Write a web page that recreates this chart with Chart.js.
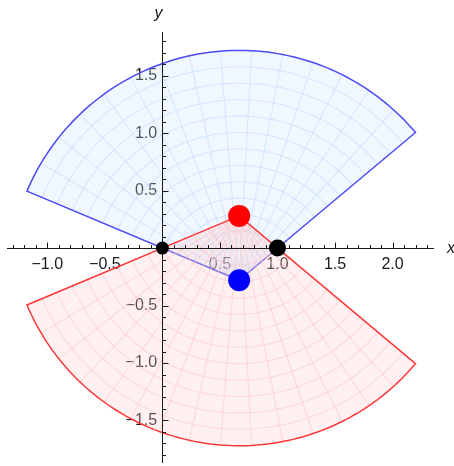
<!DOCTYPE html>
<html>
<head>
<meta charset="utf-8">
<script src="https://cdn.jsdelivr.net/npm/chart.js@4.4.1/dist/chart.umd.min.js"></script>
<style>
  html, body { margin: 0; padding: 0; background: #fff; }
</style>
</head>
<body>
<canvas id="chart" width="454" height="466"></canvas>
<script>
/* ================================
   DATA
================================ */
// two sectors: apex, radius, opening angles in degrees (blue, red)
const sectorCenterX = [0.667, 0.667];
const sectorCenterY = [-0.28, 0.28];
const sectorRadius = [2.0, 2.0];
const sectorStart = [40.0, -157.2];
const sectorEnd = [157.2, -40.0];
const meshRings = [14, 14];
const meshSpokes = [15, 15];

// the four dots
const dotX = [0.667, 0.667, 0, 1];
const dotY = [0.28, -0.28, 0, 0];

// axes
const xTicks = [-1.0, -0.5, 0.5, 1.0, 1.5, 2.0];
const yTicks = [-1.5, -1.0, -0.5, 0.5, 1.0, 1.5];
const xRange = [-1.35, 2.36];
const yRange = [-1.87, 1.88];

/* ================================
   STYLES
================================ */
const sectorLine = ["rgb(75,75,245)", "rgb(255,55,55)"];
const sectorFill = ["rgba(205,228,255,0.28)", "rgba(255,205,205,0.28)"];
const sectorMesh = ["rgba(190,218,255,0.5)", "rgba(255,195,195,0.5)"];
const dotColor = ["#ff0000", "#0000ff", "#000000", "#000000"];
const dotSize = [11, 11, 6.5, 8.5];
const labelFont = { family: "'Liberation Sans', Arial, sans-serif", size: 16 };

function polar(i, r, deg) {
    const a = deg * Math.PI / 180;
    return { x: sectorCenterX[i] + r * Math.cos(a), y: sectorCenterY[i] + r * Math.sin(a) };
}

function arc(i, r) {
    const pts = [];
    const n = 90;
    for (let k = 0; k <= n; k++) {
        pts.push(polar(i, r, sectorStart[i] + (sectorEnd[i] - sectorStart[i]) * k / n));
    }
    return pts;
}

function outline(i) {
    const c = { x: sectorCenterX[i], y: sectorCenterY[i] };
    return [c].concat(arc(i, sectorRadius[i]), [c]);
}

function lineSet(data, color, width, extra) {
    return Object.assign({
        data: data,
        showLine: true,
        borderColor: color,
        borderWidth: width,
        pointRadius: 0,
        pointHoverRadius: 0,
        tension: 0,
        fill: false
    }, extra || {});
}

/* ================================
   BUILD DATASETS (in drawing order)
================================ */
const sets = [];
for (let i = 0; i < sectorCenterX.length; i++) {
    // fill
    sets.push(lineSet(outline(i), "rgba(0,0,0,0)", 0, { fill: "shape", backgroundColor: sectorFill[i] }));
    // rings
    for (let k = 1; k < meshRings[i]; k++) {
        sets.push(lineSet(arc(i, sectorRadius[i] * k / meshRings[i]), sectorMesh[i], 1.2));
    }
    // spokes
    for (let j = 1; j < meshSpokes[i]; j++) {
        const deg = sectorStart[i] + (sectorEnd[i] - sectorStart[i]) * j / meshSpokes[i];
        sets.push(lineSet([polar(i, 0, deg), polar(i, sectorRadius[i], deg)], sectorMesh[i], 1.2));
    }
    // border
    sets.push(lineSet(outline(i), sectorLine[i], 1.5));
}
sets.push({
    isDots: true,
    data: dotX.map((x, k) => ({ x: x, y: dotY[k] })),
    showLine: false,
    pointRadius: dotSize,
    pointHoverRadius: dotSize,
    pointBackgroundColor: dotColor,
    pointBorderWidth: 0
});
sets.forEach((s, k) => { s.order = sets.length - k; });

/* ================================
   AXES THROUGH THE ORIGIN
================================ */
const axesPlugin = {
    id: "originAxes",
    beforeDatasetDraw(chart, args) {
        if (!chart.data.datasets[args.index].isDots) return;
        const ctx = chart.ctx;
        const xs = chart.scales.x, ys = chart.scales.y;
        const ox = Math.round(xs.getPixelForValue(0)) + 0.5;
        const oy = Math.round(ys.getPixelForValue(0)) + 0.5;

        ctx.save();
        ctx.strokeStyle = "#1a1a1a";
        ctx.lineWidth = 1;
        ctx.beginPath();
        ctx.moveTo(xs.left, oy); ctx.lineTo(xs.right, oy);
        ctx.moveTo(ox, ys.top); ctx.lineTo(ox, ys.bottom);

        // tick marks every 0.1, longer every 0.5
        for (let t = Math.ceil(xRange[0] * 10); t <= Math.floor(xRange[1] * 10); t++) {
            if (t === 0) continue;
            const px = Math.round(xs.getPixelForValue(t / 10)) + 0.5;
            const len = t % 5 === 0 ? 6 : 3.5;
            ctx.moveTo(px, oy); ctx.lineTo(px, oy - len);
        }
        for (let t = Math.ceil(yRange[0] * 10); t <= Math.floor(yRange[1] * 10); t++) {
            if (t === 0) continue;
            const py = Math.round(ys.getPixelForValue(t / 10)) + 0.5;
            const len = t % 5 === 0 ? 6 : 3.5;
            ctx.moveTo(ox, py); ctx.lineTo(ox + len, py);
        }
        ctx.stroke();

        // axis names
        ctx.fillStyle = "#1a1a1a";
        ctx.font = "italic 16px 'Liberation Sans', Arial, sans-serif";
        ctx.textAlign = "center";
        ctx.textBaseline = "middle";
        ctx.fillText("x", xs.right + 17, oy);
        ctx.fillText("y", ox - 4, ys.top - 18);
        ctx.restore();
    }
};

const fmt = v => v.toFixed(1).replace("-", "\u2212");

new Chart(document.getElementById("chart"), {
    type: "scatter",
    data: { datasets: sets },
    plugins: [axesPlugin],
    options: {
        responsive: false,
        animation: false,
        events: [],
        layout: { autoPadding: false, padding: { left: 7, right: 20, top: 32, bottom: 3 } },
        plugins: {
            legend: { display: false },
            tooltip: { enabled: false }
        },
        scales: {
            x: {
                type: "linear",
                min: xRange[0],
                max: xRange[1],
                position: { y: 0 },
                grid: { display: false, drawTicks: false },
                border: { display: false },
                ticks: {
                    font: labelFont, color: "#1a1a1a", padding: 7,
                    autoSkip: false, minRotation: 0, maxRotation: 0,
                    callback: fmt
                },
                afterBuildTicks: s => { s.ticks = xTicks.map(v => ({ value: v })); },
                afterFit: s => { s.paddingLeft = 0; s.paddingRight = 0; }
            },
            y: {
                type: "linear",
                min: yRange[0],
                max: yRange[1],
                position: { x: -0.045 },
                grid: { display: false, drawTicks: false },
                border: { display: false },
                ticks: {
                    font: labelFont, color: "#1a1a1a",
                    autoSkip: false, callback: fmt
                },
                afterBuildTicks: s => { s.ticks = yTicks.map(v => ({ value: v })); },
                afterFit: s => { s.paddingTop = 0; s.paddingBottom = 0; }
            }
        }
    }
});
</script>
</body>
</html>
